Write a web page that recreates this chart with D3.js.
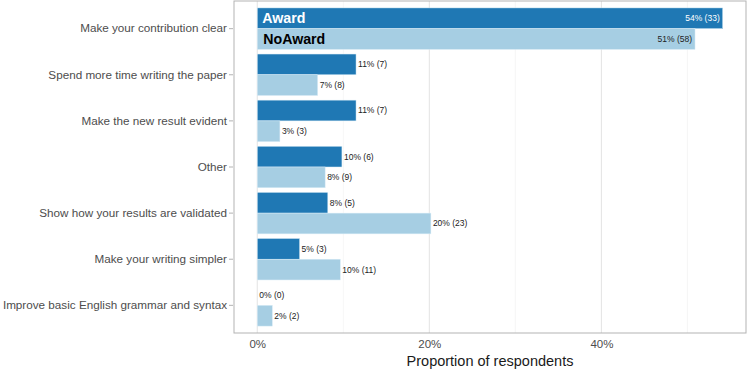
<!DOCTYPE html>
<html>
<head>
<meta charset="utf-8">
<script src="https://cdn.jsdelivr.net/npm/d3@7"></script>
<style>
  body { margin: 0; background: #fff; }
  svg text { font-family: "Liberation Sans", Arial, sans-serif; }
</style>
</head>
<body>
<div id="chart"></div>
<script>
// categories, top to bottom
var categories = [
    'Make your contribution clear',
    'Spend more time writing the paper',
    'Make the new result evident',
    'Other',
    'Show how your results are validated',
    'Make your writing simpler',
    'Improve basic English grammar and syntax'
];
var groups = ['Award', 'NoAward'];

// proportion of respondents (%) and counts
var award_pct    = [54.10, 11.48, 11.48, 9.84, 8.20, 4.92, 0];
var award_n      = [33, 7, 7, 6, 5, 3, 0];
var noaward_pct  = [50.88, 7.02, 2.63, 7.89, 20.18, 9.65, 1.75];
var noaward_n    = [58, 8, 3, 9, 23, 11, 2];

var x_ticks = [0, 20, 40];

// chart params
var width = 747, height = 371;
var panel = { left: 234, right: 746, top: 1, bottom: 333 };
var colors = { Award: '#1f78b4', NoAward: '#a6cee3' };

var data = [];
categories.forEach(function(c, i) {
    data.push({ cat: c, group: 'Award', pct: award_pct[i], n: award_n[i] });
    data.push({ cat: c, group: 'NoAward', pct: noaward_pct[i], n: noaward_n[i] });
});

var svg = d3.select('#chart').append('svg')
    .attr('width', width)
    .attr('height', height);

var max_pct = d3.max(data, function(d) { return d.pct; });
var x_scale = d3.scaleLinear()
    .domain([-max_pct * 0.05, max_pct * 1.05])
    .range([panel.left, panel.right]);

var y_scale = d3.scaleBand()
    .domain(categories)
    .range([panel.top, panel.bottom])
    .paddingInner(0.1)
    .paddingOuter(0.15);

var y_sub = d3.scaleBand()
    .domain(groups)
    .range([0, y_scale.bandwidth()]);

// grid lines
var minor = [10, 30, 50];
svg.append('g').selectAll('line')
    .data(minor)
    .enter().append('line')
    .attr('x1', function(d) { return x_scale(d); })
    .attr('x2', function(d) { return x_scale(d); })
    .attr('y1', panel.top).attr('y2', panel.bottom)
    .attr('stroke', '#f0f0f0').attr('stroke-width', 0.6);

svg.append('g').selectAll('line')
    .data(x_ticks)
    .enter().append('line')
    .attr('x1', function(d) { return x_scale(d); })
    .attr('x2', function(d) { return x_scale(d); })
    .attr('y1', panel.top).attr('y2', panel.bottom)
    .attr('stroke', '#e6e6e6').attr('stroke-width', 1.1);

// bars
svg.append('g').selectAll('rect')
    .data(data)
    .enter().append('rect')
    .attr('x', x_scale(0))
    .attr('y', function(d) { return y_scale(d.cat) + y_sub(d.group); })
    .attr('width', function(d) { return x_scale(d.pct) - x_scale(0); })
    .attr('height', y_sub.bandwidth())
    .attr('fill', function(d) { return colors[d.group]; })
    .attr('stroke', function(d) { return d.pct > 0 ? '#d9ecf6' : 'none'; })
    .attr('stroke-width', 0.5);

// value labels
svg.append('g').selectAll('text')
    .data(data)
    .enter().append('text')
    .attr('x', function(d) {
        return d.cat === categories[0] ? x_scale(d.pct) - 3 : x_scale(d.pct) + 2;
    })
    .attr('y', function(d) { return y_scale(d.cat) + y_sub(d.group) + y_sub.bandwidth() / 2; })
    .attr('dy', '0.35em')
    .attr('text-anchor', function(d) { return d.cat === categories[0] ? 'end' : 'start'; })
    .attr('font-size', '8.5px')
    .attr('fill', function(d) {
        return (d.cat === categories[0] && d.group === 'Award') ? '#ffffff' : '#222';
    })
    .text(function(d) { return Math.round(d.pct) + '% (' + d.n + ')'; });

// group names inside the top bars
svg.append('g').selectAll('text')
    .data(groups)
    .enter().append('text')
    .attr('x', function(d, i) { return x_scale(0) + 5 + i; })
    .attr('y', function(d) { return y_scale(categories[0]) + y_sub(d) + y_sub.bandwidth() / 2; })
    .attr('dy', '0.36em')
    .attr('font-size', '14.2px')
    .attr('font-weight', 'bold')
    .attr('fill', function(d) { return d === 'Award' ? '#ffffff' : '#000000'; })
    .text(function(d) { return d; });

// panel border
svg.append('rect')
    .attr('x', panel.left).attr('y', panel.top)
    .attr('width', panel.right - panel.left)
    .attr('height', panel.bottom - panel.top)
    .attr('fill', 'none')
    .attr('stroke', '#b3b3b3').attr('stroke-width', 1);

// x axis
var x_axis = d3.axisBottom(x_scale)
    .tickValues(x_ticks)
    .tickFormat(function(d) { return d + '%'; })
    .tickSize(0)
    .tickPadding(7);
var gx = svg.append('g')
    .attr('transform', 'translate(0,' + panel.bottom + ')')
    .call(x_axis);
gx.select('.domain').remove();
gx.selectAll('text').attr('font-size', '11.5px').attr('fill', '#4d4d4d');

// y axis
var y_axis = d3.axisLeft(y_scale).tickSize(4).tickPadding(2);
var gy = svg.append('g')
    .attr('transform', 'translate(' + (panel.left - 1) + ',0)')
    .call(y_axis);
gy.select('.domain').remove();
gy.selectAll('line').attr('stroke', '#b3b3b3');
gy.selectAll('text').attr('font-size', '11.7px').attr('fill', '#4d4d4d');

// x axis title
svg.append('text')
    .attr('x', (panel.left + panel.right) / 2)
    .attr('y', 366)
    .attr('text-anchor', 'middle')
    .attr('font-size', '14.5px')
    .attr('fill', '#1a1a1a')
    .text('Proportion of respondents');
</script>
</body>
</html>
